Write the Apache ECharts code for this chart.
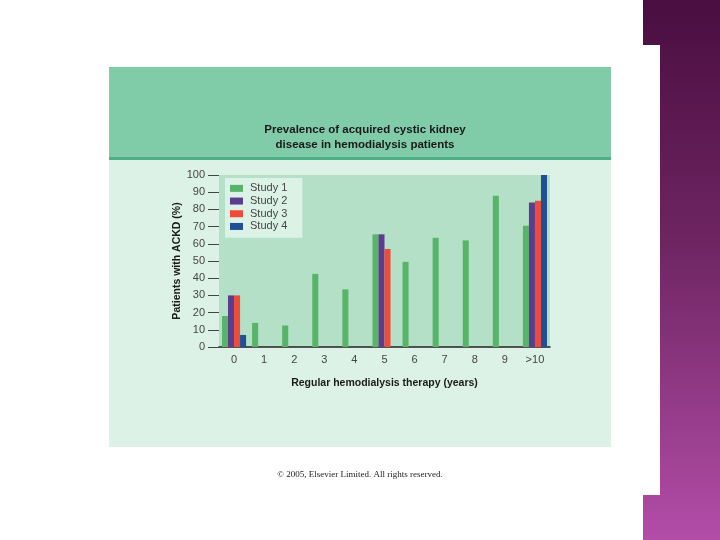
<!DOCTYPE html>
<html>
<head>
<meta charset="utf-8">
<style>
html,body{margin:0;padding:0;background:#ffffff;}
#chart{width:720px;height:540px;}
</style>
<script src="https://cdn.jsdelivr.net/npm/echarts@6/dist/echarts.min.js"></script>
</head>
<body>
<div id="chart"></div>
<script>
var categories = ['0','1','2','3','4','5','6','7','8','9','>10'];
var study1 = [18, 14, 12.5, 42.5, 33.5, 65.5, 49.5, 63.5, 62, 88, 70.5];
var study2 = [30, null, null, null, null, 65.5, null, null, null, null, 84];
var study3 = [30, null, null, null, null, 57, null, null, null, null, 85];
var study4 = [7, null, null, null, null, null, null, null, null, null, 100];
var seriesNames = ['Study 1','Study 2','Study 3','Study 4'];
var seriesColors = ['#58B468','#5A3D8F','#EE4B3B','#1F4F95'];
var yTicks = {min: 0, max: 100, interval: 10};

var chart = echarts.init(document.getElementById('chart'), null, {renderer:'canvas'});
var dataSets = [study1, study2, study3, study4];
var series = dataSets.map(function(d, i){
  return {
    name: seriesNames[i], type: 'bar', data: d,
    barGap: '0%', barCategoryGap: '20%',
    itemStyle: {color: seriesColors[i]},
    emphasis: {disabled: true}
  };
});

chart.setOption({
  backgroundColor: '#ffffff',
  animation: false,
  graphic: [
    {type:'rect', z:-10, shape:{x:643,y:0,width:77,height:540},
     style:{fill:new echarts.graphic.LinearGradient(0,0,0,1,[{offset:0,color:'#4A0E40'},{offset:0.45,color:'#6E2562'},{offset:1,color:'#B34DA8'}])}},
    {type:'rect', z:-9, shape:{x:643,y:45,width:17,height:450}, style:{fill:'#ffffff'}},
    {type:'rect', z:-9, shape:{x:109,y:67,width:502,height:90}, style:{fill:'#80CCA8'}},
    {type:'rect', z:-9, shape:{x:109,y:157,width:502,height:3}, style:{fill:'#4FAE85'}},
    {type:'rect', z:-9, shape:{x:109,y:160,width:502,height:287}, style:{fill:'#DDF2E6'}},
    {type:'text', left:'center', top:470, style:{text:'\u00A9 2005, Elsevier Limited. All rights reserved.', font:'9px "Liberation Serif", serif', fill:'#222222'}}
  ],
  title: {
    text: 'Prevalence of acquired cystic kidney\ndisease in hemodialysis patients',
    left: 360, textAlign: 'center', top: 117,
    textStyle: {fontFamily:'"Liberation Sans", Arial, sans-serif', fontSize: 11.5, fontWeight: 'bold', color: '#1a1a1a', lineHeight: 15}
  },
  legend: {
    data: seriesNames, orient: 'vertical', left: 225, top: 178,
    backgroundColor: '#DDF2E6', padding: [4, 15, 5, 5],
    itemWidth: 13, itemHeight: 7, itemGap: 0,
    icon: 'rect',
    textStyle: {fontFamily:'"Liberation Sans", Arial, sans-serif', fontSize: 11, color: '#444444', lineHeight: 12.7, padding:[0,0,0,2]},
    selectedMode: false
  },
  grid: {left: 219, right: 170, top: 175, bottom: 193, show: true, backgroundColor: '#B3E0C6', borderWidth: 0},
  xAxis: {
    type: 'category', data: categories,
    name: 'Regular hemodialysis therapy (years)', nameLocation: 'middle', nameGap: 31,
    nameTextStyle: {fontFamily:'"Liberation Sans", Arial, sans-serif', fontSize: 10.5, fontWeight: 'bold', color: '#1a1a1a'},
    axisLine: {lineStyle: {color: '#222222', width: 1.5}},
    axisTick: {length: 7, lineStyle: {color: '#666666'}},
    axisLabel: {fontFamily:'"Liberation Sans", Arial, sans-serif', fontSize: 11, color: '#444444', margin: 7},
    splitLine: {show: false}
  },
  yAxis: {
    type: 'value', min: yTicks.min, max: yTicks.max, interval: yTicks.interval,
    name: 'Patients with ACKD (%)', nameLocation: 'middle', nameGap: 35, nameRotate: 90,
    nameTextStyle: {fontFamily:'"Liberation Sans", Arial, sans-serif', fontSize: 10.5, fontWeight: 'bold', color: '#1a1a1a'},
    axisLine: {show: false},
    axisTick: {show: true, length: 11, lineStyle: {color: '#444444'}},
    axisLabel: {fontFamily:'"Liberation Sans", Arial, sans-serif', fontSize: 11, color: '#444444', margin: 14},
    splitLine: {show: false}
  },
  series: series
});
</script>
</body>
</html>
